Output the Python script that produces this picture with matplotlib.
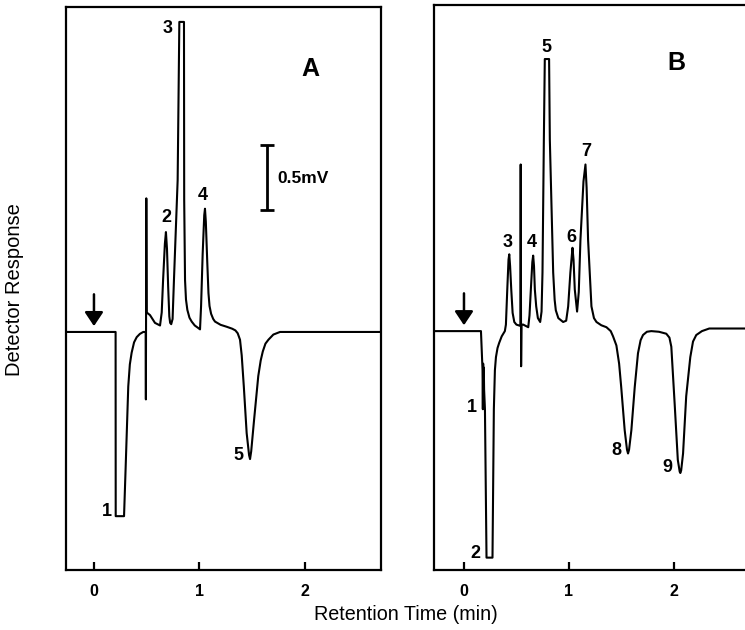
import matplotlib
matplotlib.use("Agg")
import matplotlib.pyplot as plt

plt.rcParams['font.family'] = ['Liberation Sans', 'DejaVu Sans']

# ---------------- data (retention time in min, response in mV) ----------------
a_time = [-0.30, 0.205, 0.206, 0.285, 0.300, 0.325, 0.340, 0.357, 0.380, 0.405,
          0.435, 0.467, 0.490, 0.492, 0.496, 0.500, 0.531, 0.578, 0.626, 0.642,
          0.655, 0.672, 0.682, 0.692, 0.703, 0.714, 0.722, 0.732, 0.745, 0.758,
          0.793, 0.809, 0.853, 0.855, 0.863, 0.872, 0.885, 0.905, 0.926, 0.955,
          0.989, 1.005, 1.015, 1.030, 1.045, 1.052, 1.060, 1.074, 1.085, 1.095,
          1.110, 1.130, 1.147, 1.200, 1.258, 1.310, 1.340, 1.362, 1.384, 1.400,
          1.420, 1.447, 1.470, 1.479, 1.490, 1.517, 1.557, 1.580, 1.600, 1.625,
          1.653, 1.700, 1.763, 1.860, 2.80]
a_resp = [0.00, 0.00, -1.42, -1.42, -1.05, -0.42, -0.25, -0.16, -0.08, -0.04,
          -0.015, 0.00, 0.00, -0.52, 1.03, 0.15, 0.13, 0.07, 0.05, 0.15,
          0.40, 0.68, 0.77, 0.64, 0.35, 0.12, 0.07, 0.06, 0.10, 0.40,
          1.17, 2.39, 2.39, 1.02, 0.40, 0.25, 0.17, 0.11, 0.08, 0.05,
          0.03, 0.02, 0.20, 0.60, 0.90, 0.95, 0.85, 0.53, 0.30, 0.20,
          0.14, 0.10, 0.08, 0.055, 0.04, 0.025, 0.012, -0.01, -0.06, -0.18,
          -0.42, -0.78, -0.95, -0.98, -0.92, -0.68, -0.34, -0.22, -0.15, -0.09,
          -0.06, -0.02, 0.00, 0.00, 0.00]

b_time = [-0.30, 0.162, 0.177, 0.180, 0.183, 0.186, 0.189, 0.192, 0.200, 0.215,
          0.272, 0.285, 0.295, 0.305, 0.320, 0.336, 0.360, 0.390, 0.400, 0.413,
          0.425, 0.432, 0.440, 0.451, 0.464, 0.480, 0.500, 0.538, 0.541, 0.545,
          0.549, 0.565, 0.613, 0.625, 0.638, 0.652, 0.660, 0.668, 0.676, 0.689,
          0.705, 0.727, 0.740, 0.749, 0.762, 0.771, 0.812, 0.819, 0.851, 0.865,
          0.876, 0.900, 0.946, 0.975, 0.994, 1.015, 1.035, 1.045, 1.057, 1.079,
          1.095, 1.111, 1.140, 1.159, 1.170, 1.184, 1.216, 1.240, 1.264, 1.310,
          1.359, 1.400, 1.422, 1.454, 1.480, 1.500, 1.533, 1.555, 1.565, 1.575,
          1.597, 1.629, 1.660, 1.685, 1.708, 1.745, 1.787, 1.860, 1.930, 1.960,
          1.978, 2.010, 2.040, 2.058, 2.064, 2.072, 2.090, 2.120, 2.159, 2.185,
          2.216, 2.270, 2.340, 2.80]
b_resp = [0.00, 0.00, -0.30, -0.60, -0.25, -0.55, -0.28, -0.45, -0.60, -1.74,
          -1.74, -0.60, -0.30, -0.20, -0.13, -0.09, -0.04, 0.00, 0.05, 0.32,
          0.55, 0.59, 0.50, 0.32, 0.14, 0.07, 0.05, 0.04, 1.28, -0.27,
          0.05, 0.05, 0.03, 0.12, 0.32, 0.53, 0.58, 0.50, 0.32, 0.19,
          0.10, 0.07, 0.15, 0.45, 1.47, 2.09, 2.09, 1.47, 0.45, 0.24,
          0.16, 0.10, 0.07, 0.08, 0.19, 0.45, 0.64, 0.55, 0.32, 0.15,
          0.30, 0.70, 1.15, 1.28, 1.10, 0.70, 0.19, 0.10, 0.07, 0.045,
          0.03, 0.00, -0.04, -0.11, -0.25, -0.43, -0.76, -0.91, -0.94, -0.91,
          -0.76, -0.43, -0.17, -0.07, -0.03, -0.005, 0.00, -0.005, -0.02, -0.05,
          -0.12, -0.56, -0.99, -1.08, -1.09, -1.07, -0.94, -0.50, -0.20, -0.08,
          -0.03, 0.00, 0.02, 0.02]

a_peak_labels = ["1", "2", "3", "4", "5"]
a_label_t = [0.123, 0.682, 0.700, 1.033, 1.365]
a_label_r = [-1.385, 0.88, 2.34, 1.05, -0.95]

b_peak_labels = ["1", "2", "3", "4", "5", "6", "7", "8", "9"]
b_label_t = [0.076, 0.105, 0.419, 0.648, 0.790, 1.029, 1.162, 1.457, 1.943]
b_label_r = [-0.585, -1.71, 0.68, 0.68, 2.18, 0.72, 1.38, -0.92, -1.05]

xticks = [0, 1, 2]
xtick_labels = ["0", "1", "2"]

# ---------------- figure ----------------
fig = plt.figure(figsize=(7.45, 6.30), dpi=100)
ylim = (-1.835, 2.505)

axA = fig.add_axes([66/745, 1-570/630, (381-66)/745, (570-7)/630])
axB = fig.add_axes([434/745, 1-570/630, (747-434)/745, (570-5)/630])

panels = [
    (axA, a_time, a_resp, a_peak_labels, a_label_t, a_label_r, (-0.265, 2.72), "A", (2.05, 2.03)),
    (axB, b_time, b_resp, b_peak_labels, b_label_t, b_label_r, (-0.286, 2.70), "B", (2.03, 2.06)),
]

for ax, t, r, labs, lt, lr, xl, name, npos in panels:
    ax.plot(t, r, color='black', lw=1.5, solid_joinstyle='round')
    ax.set_xlim(*xl)
    ax.set_ylim(*ylim)
    ax.set_yticks([])
    ax.set_xticks(xticks)
    ax.set_xticklabels(xtick_labels, fontweight='bold')
    ax.tick_params(axis='x', direction='in', length=6, width=1.6, pad=10,
                   labelsize=11.5)
    for s in ax.spines.values():
        s.set_linewidth(1.6)
    for lab, x, y in zip(labs, lt, lr):
        ax.text(x, y, lab, ha='center', va='center', fontsize=13,
                fontweight='bold')
    ax.text(npos[0], npos[1], name, ha='center', va='center', fontsize=18,
            fontweight='bold')
    ax.annotate('', xy=(0, 0.045), xytext=(0, 0.29),
                arrowprops=dict(arrowstyle='-|>,head_length=0.42,head_width=0.28',
                                lw=1.8, color='black', shrinkA=0, shrinkB=0,
                                mutation_scale=20))

# scale bar 0.5 mV in panel A
axA.errorbar([1.64], [1.19], yerr=[[0.25], [0.25]], color='black', lw=2.0,
             capsize=5, capthick=2.0)
axA.text(1.735, 1.185, "0.5mV", ha='left', va='center', fontsize=12.5,
         fontweight='bold')

fig.text(406/745, 1-614/630, "Retention Time (min)", ha='center', va='center',
         fontsize=14.2)
fig.text(15/745, 1-290/630, "Detector Response", ha='center', va='center',
         rotation=90, fontsize=14.5)

fig.savefig("out.png", dpi=100)
